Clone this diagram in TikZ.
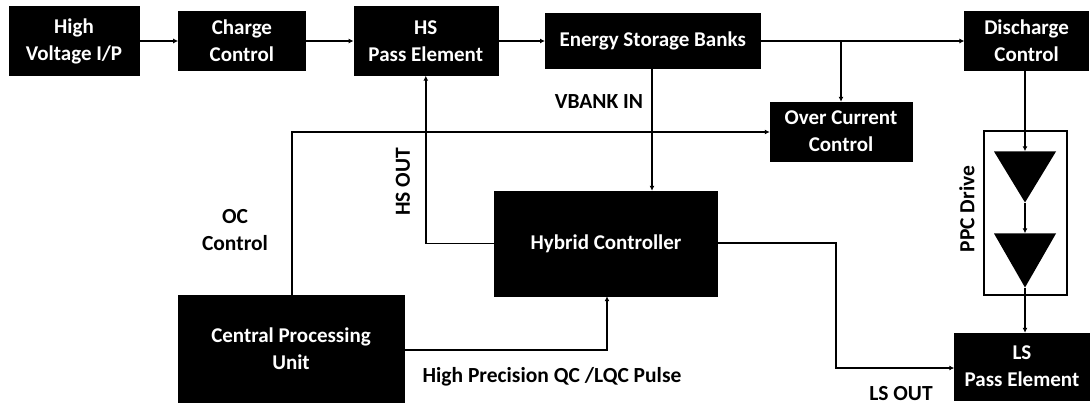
\documentclass[tikz,border=0pt]{standalone}
\usepackage{fontspec}
\setmainfont{Carlito}
\usetikzlibrary{arrows.meta,positioning,shapes.geometric}
\tikzset{
  blackbox/.style={draw=black, fill=black, text=white, align=center, font=\fontsize{21}{27}\selectfont\bfseries, inner sep=0pt},
  drivebox/.style={draw=black, line width=1.2pt, fill=white, inner sep=0pt},
  drivetri/.style={isosceles triangle, isosceles triangle stretches, shape border rotate=270, fill=black, inner sep=0pt, minimum width=62pt, anchor=apex},
  arrow/.style={-{Latex[length=5pt,width=5pt]}, line width=1.5pt, draw=black},
  lbl/.style={align=center, font=\fontsize{21.5}{27}\selectfont\bfseries, text=black}
}
\begin{document}
\begin{tikzpicture}[x=1pt,y=-1pt]
  \useasboundingbox (0,0) rectangle (1090,405);
  \node[blackbox, minimum width=130pt, minimum height=69pt] (high) at (74,41) {High\\Voltage I/P};
  \node[blackbox, minimum width=127pt, minimum height=59pt, right=39pt of high] (charge) {Charge\\Control};
  \node[blackbox, minimum width=144pt, minimum height=69pt, right=48pt of charge] (hs) {HS\\Pass Element};
  \node[blackbox, minimum width=215pt, minimum height=55pt, right=47pt of hs] (energy) {Energy Storage Banks};
  \node[blackbox, minimum width=124pt, minimum height=59pt, right=204pt of energy] (discharge) {Discharge\\Control};
  \node[blackbox, minimum width=142pt, minimum height=59pt] (overcurrent) at (841,131.5) {Over Current\\Control};
  \node[blackbox, minimum width=223pt, minimum height=105pt] (hybrid) at (606,243.5) {Hybrid Controller};
  \node[blackbox, minimum width=226pt, minimum height=107pt] (cpu) at (291,348.5) {Central Processing\\Unit};
  \node[blackbox, minimum width=135pt, minimum height=67pt] (ls) at (1022,366.5) {LS\\Pass Element};
  \node[drivebox, minimum width=83pt, minimum height=164pt] (drive) at (1025.5,213) {};
  \node[drivetri, minimum height=51pt] (tri1) at (1025,203) {};
  \node[drivetri, minimum height=54pt] (tri2) at (1025,288) {};

  \coordinate (split) at (overcurrent.north |- energy.east);
  \coordinate (hsbend) at (hs.south |- hybrid.west);
  \coordinate (vbankx) at (652,0);
  \coordinate (ocbend) at (292,132);
  \coordinate (lsbendtop) at (836,243);
  \coordinate (lsbendlow) at (836,368);
  \coordinate (pulsebend) at (607,350);

  \draw[arrow] (high) -- (charge);
  \draw[arrow] (charge) -- (hs);
  \draw[arrow] (hs) -- (energy);
  \draw[arrow] (energy) -- (discharge);
  \draw[arrow] (split) -- (overcurrent.north);
  \draw[arrow] (energy.south -| vbankx) -- (hybrid.north -| vbankx);
  \draw[arrow] (hybrid.west) -- (hsbend) -- (hs.south);
  \draw[arrow] (cpu.north -| ocbend) -- (ocbend) -- (overcurrent.west |- ocbend);
  \draw[arrow] (cpu.east |- pulsebend) -- (pulsebend) -- (hybrid.south -| pulsebend);
  \draw[arrow] (hybrid.east |- lsbendtop) -- (lsbendtop) -- (lsbendlow) -- (ls.west |- lsbendlow);
  \draw[arrow] (discharge.south -| tri1.north) -- (tri1.north);
  \draw[arrow] (tri1.apex) -- (tri2.north);
  \draw[arrow] (tri2.apex) -- (ls.north -| tri2.apex);

  \node[lbl] (vbank) at (599,102) {VBANK IN};
  \node[lbl, rotate=90] (hsout) at (403,182) {HS OUT};
  \node[lbl] (oc) at (235,230) {OC\\Control};
  \node[lbl] (pulse) at (552,377) {High Precision QC /LQC Pulse};
  \node[lbl] (lsout) at (901,394) {LS OUT};
  \node[lbl, rotate=90] (ppc) at (967,209) {PPC Drive};
\end{tikzpicture}
\end{document}
